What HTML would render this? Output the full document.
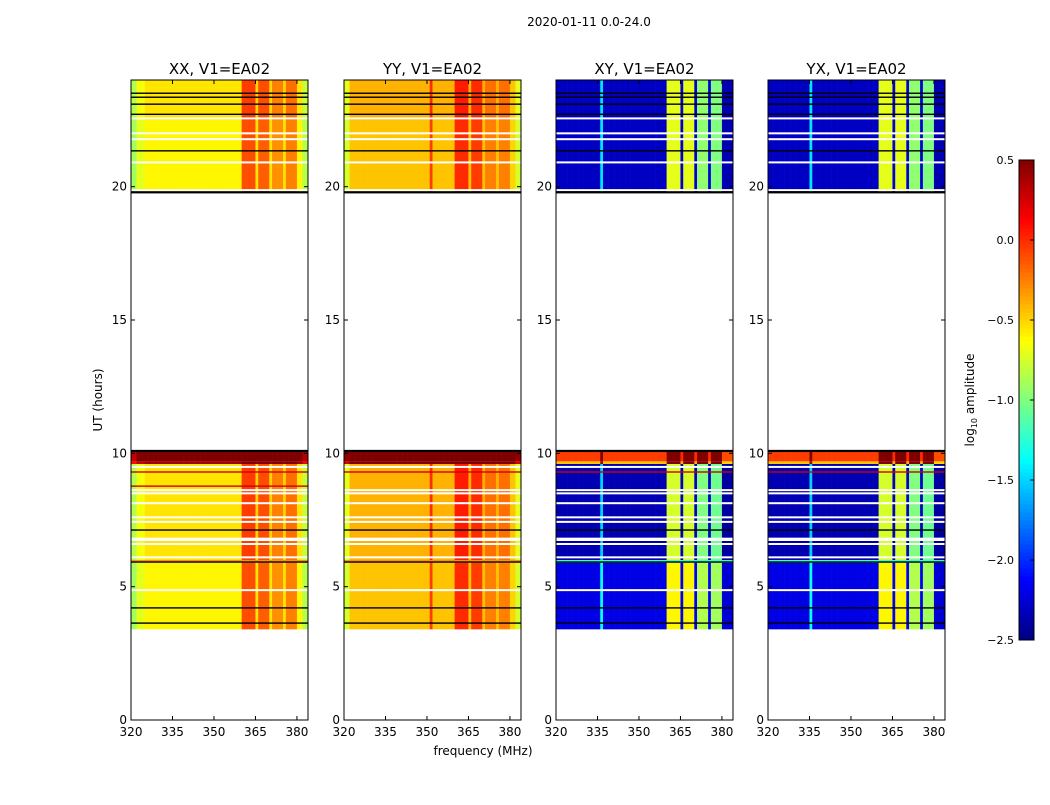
<!DOCTYPE html>
<html><head><meta charset="utf-8"><style>
body{margin:0;background:#fff;font-family:"Liberation Sans","DejaVu Sans",sans-serif}
svg text{font-family:"DejaVu Sans","Liberation Sans",sans-serif}
</style></head><body>
<svg id="fig" width="1050" height="800" viewBox="0 0 1050 800">
<text x="589" y="26" font-size="12" text-anchor="middle">2020-01-11 0.0-24.0</text>
<text x="483" y="755" font-size="12" text-anchor="middle">frequency (MHz)</text>
<text transform="translate(102,400) rotate(-90)" font-size="12" text-anchor="middle">UT (hours)</text>
<text transform="translate(974,400) rotate(-90)" font-size="12" text-anchor="middle">log<tspan font-size="8" dy="3">10</tspan><tspan dy="-3"> amplitude</tspan></text>
</svg>
<script>
// ---- data ----
const panelTitles = ["XX, V1=EA02","YY, V1=EA02","XY, V1=EA02","YX, V1=EA02"];
const freqBins = []; for (let f=320; f<384; f++) freqBins.push(f);
// per-panel column profile: [startMHz, endMHz(excl), log10 amp]
const profXX = [[320,322,-0.9],[322,325,-0.7],[325,360,-0.6],[360,365,-0.1],[365,366,-0.55],[366,370,-0.15],[370,371,-0.55],[371,375,-0.3],[375,376,-0.55],[376,380,-0.25],[380,382,-0.6],[382,384,-0.85]];
const profYY = [[320,322,-0.75],[322,351,-0.45],[351,352,-0.05],[352,360,-0.45],[360,365,0.0],[365,366,-0.45],[366,370,-0.05],[370,371,-0.45],[371,375,-0.25],[375,376,-0.45],[376,380,-0.25],[380,382,-0.5],[382,384,-0.75]];
const profXY = [[320,336,-2.35],[336,337,-1.5],[337,360,-2.35],[360,365,-0.75],[365,366,-2.3],[366,370,-0.75],[370,371,-2.3],[371,375,-1.0],[375,376,-2.3],[376,380,-1.05],[380,384,-2.4]];
const profYX = [[320,335,-2.35],[335,336,-1.5],[336,360,-2.35],[360,365,-0.75],[365,366,-2.3],[366,370,-0.75],[370,371,-2.3],[371,375,-1.0],[375,376,-2.3],[376,380,-1.05],[380,384,-2.4]];
const profiles = [profXX, profYY, profXY, profYX];
// time segments
const segStart = [3.4, 5.9, 6.0, 9.6, 9.7, 19.8, 22.5];
const segEnd   = [5.9, 6.0, 9.6, 9.7, 10.1, 22.5, 24.0];
const segPar   = [0.0, 0.0, 0.05, 1.0, 1.2, 0.0, 0.05];
const segCross = [0.15, 0.0, 0.0, 1.9, 2.3, 0.05, 0.05];
const whiteLines = [4.87, 6.1, 6.6, 6.75, 6.8, 7.43, 7.6, 8.13, 8.5, 8.62, 9.49, 19.87, 20.91, 21.78, 22.0, 22.56];
const blackLines = [3.63, 4.2, 5.92, 7.12, 10.1, 19.8, 21.34, 22.71, 23.09, 23.35, 23.5];
const redLinesXX = [9.3, 8.77];
const redLinesYY = [9.3];
const xTicks = [320,335,350,365,380];
const yTicks = [0,5,10,15,20];
const cbTicks = [-2.5,-2.0,-1.5,-1.0,-0.5,0.0,0.5];

// ---- layout ----
const NS="http://www.w3.org/2000/svg";
const svg=document.getElementById('fig');
const panelX=[131,344,556,768], PW=177, PT=80, PB=720;
const xs=(p,f)=>panelX[p]+(f-320)/64*PW;
const ys=h=>PB-(h/24)*(PB-PT);
const vmin=-2.5,vmax=0.5;
function jet(v){let t=(v-vmin)/(vmax-vmin);t=Math.max(0,Math.min(1,t));
 const c=x=>Math.round(255*Math.max(0,Math.min(1,x)));
 const r=c(Math.min(4*t-1.5,-4*t+4.5)),g=c(Math.min(4*t-0.5,-4*t+3.5)),b=c(Math.min(4*t+0.5,-4*t+2.5));
 return `rgb(${r},${g},${b})`;}
function mk(tag,attrs,parent){const e=document.createElementNS(NS,tag);for(const k in attrs)e.setAttribute(k,attrs[k]);(parent||svg).appendChild(e);return e;}
function profVal(prof,f){for(const s of prof){if(f>=s[0]&&f<s[1])return s[2];}return -2.5;}

for(let p=0;p<4;p++){
 const g=mk('g',{});
 
 
 const cross=p>=2;
 for(let s=0;s<segStart.length;s++){
  const off=cross?segCross[s]:segPar[s];
  for(const f of freqBins){
   let v=profVal(profiles[p],f)+off;
   if(s===1) v=cross?-1.2:-0.3;
   const r=mk('rect',{x:xs(p,f),y:ys(segEnd[s]),width:PW/64+0.3,height:ys(segStart[s])-ys(segEnd[s]),fill:jet(v)},g);
   
   
  }
 }
 for(const h of whiteLines){const l=mk('rect',{x:panelX[p],y:ys(h)-1,width:PW,height:2,fill:'#fff'},g);
  }
 const reds=p===0?redLinesXX:(p===1?redLinesYY:[9.3]);
 for(const h of reds){const l=mk('rect',{x:panelX[p],y:ys(h)-0.7,width:PW,height:1.4,fill:'#d00000'},g);
  }
 for(const h of blackLines){const l=mk('rect',{x:panelX[p],y:ys(h)-0.8,width:PW,height:(h===19.8||h===10.1)?2.2:1.4,fill:'#000'},g);
  }
 const fr=mk('rect',{x:panelX[p],y:PT,width:PW,height:PB-PT,fill:'none',stroke:'#000','stroke-width':1},g);
 
 const tt=mk('text',{x:panelX[p]+PW/2,y:74,'font-size':15,'text-anchor':'middle'},g);tt.textContent=panelTitles[p];
 
 for(const t of xTicks){const x=xs(p,t);
  mk('line',{x1:x,x2:x,y1:PB,y2:PB-4,stroke:'#000'},g);mk('line',{x1:x,x2:x,y1:PT,y2:PT+4,stroke:'#000'},g);
  const tx=mk('text',{x:x,y:PB+16,'font-size':12,'text-anchor':'middle'},g);tx.textContent=t;
  }
 for(const t of yTicks){const y=ys(t);
  mk('line',{x1:panelX[p],x2:panelX[p]+4,y1:y,y2:y,stroke:'#000'},g);mk('line',{x1:panelX[p]+PW,x2:panelX[p]+PW-4,y1:y,y2:y,stroke:'#000'},g);
  const ty=mk('text',{x:panelX[p]-4,y:y+4,'font-size':12,'text-anchor':'end'},g);ty.textContent=t;
  }
}
// colorbar
const cb=mk('g',{});


const CX=1019,CW=15,CT=160,CB=640;
for(let i=0;i<120;i++){const v=vmin+(i+0.5)/120*(vmax-vmin);
 mk('rect',{x:CX,y:CB-(i+1)*(CB-CT)/120,width:CW,height:(CB-CT)/120+0.5,fill:jet(v)},cb);}
mk('rect',{x:CX,y:CT,width:CW,height:CB-CT,fill:'none',stroke:'#000'},cb);
for(const t of cbTicks){const y=CB-(t-vmin)/(vmax-vmin)*(CB-CT);
 mk('line',{x1:CX+CW-4,x2:CX+CW,y1:y,y2:y,stroke:'#000'},cb);
 const tl=mk('text',{x:CX-5,y:y+4,'font-size':11,'text-anchor':'end'},cb);tl.textContent=(t<0?'\u2212':'')+Math.abs(t).toFixed(1);
 }
</script>
</body></html>
